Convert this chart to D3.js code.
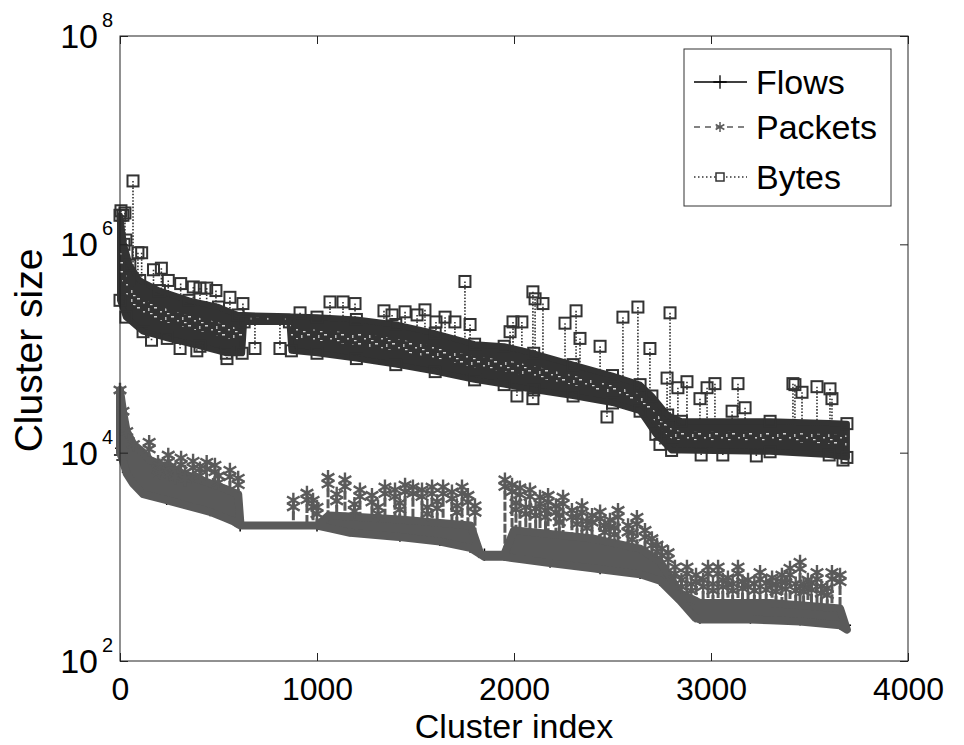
<!DOCTYPE html>
<html>
<head>
<meta charset="utf-8">
<script src="https://cdn.jsdelivr.net/npm/d3@7"></script>
<style>
  body { margin: 0; background: #fff; }
  text { font-family: "Liberation Sans", Arial, Helvetica, sans-serif; fill: #000; }
</style>
</head>
<body>
<script>
// ---------------------------------------------------------------
//  DATA  (cluster index, cluster size)
// ---------------------------------------------------------------

// Flows: mostly hidden under the packets band
var flowsPoints = [[0, 9.5e3], [6, 1.1e4], [12, 8.5e3], [40, 6.5e3], [120, 4.2e3], [237, 3.6e3], [457, 2.8e3],
    [575, 2.3e3], [610, 2.0e3], [1000, 2.0e3], [1168, 1.8e3], [1421, 1.6e3], [1624, 1.45e3], [1777, 1.25e3],
    [1850, 1.05e3], [1950, 1.05e3], [2183, 9e2], [2437, 7.8e2], [2640, 7e2], [2741, 6e2], [2843, 4e2],
    [2920, 2.7e2], [2944, 2.6e2], [3200, 2.6e2], [3452, 2.5e2], [3655, 2.3e2], [3680, 2.2e2]];

// Packets: dense band (upper / lower edge) + spikes
var packetsTop = [[0, 4.0e4], [15, 2.5e4], [34, 1.6e4], [68, 1.2e4], [118, 1.0e4], [152, 8.5e3], [254, 7.0e3],
    [406, 5.5e3], [533, 4.5e3], [600, 4.0e3], [612, 2.0e3], [1000, 2.0e3], [1060, 2.5e3], [1400, 2.3e3],
    [1780, 2.0e3], [1830, 1.05e3], [1950, 1.05e3], [2000, 1.8e3], [2400, 1.5e3], [2640, 1.2e3], [2741, 9e2],
    [2843, 4.5e2], [2944, 3.6e2], [3300, 3.6e2], [3655, 3.2e2], [3690, 2.0e2]];
var packetsBottom = [[0, 1.0e4], [10, 9.0e3], [34, 6.3e3], [68, 5.0e3], [118, 4.0e3], [237, 3.5e3], [339, 3.1e3],
    [457, 2.7e3], [575, 2.2e3], [610, 2.0e3], [1000, 2.0e3], [1168, 1.7e3], [1421, 1.55e3], [1624, 1.4e3],
    [1777, 1.22e3], [1850, 1.0e3], [1950, 1.0e3], [2030, 9.5e2], [2183, 8.7e2], [2437, 7.6e2], [2640, 6.8e2],
    [2741, 5.9e2], [2843, 3.8e2], [2920, 2.6e2], [2944, 2.5e2], [3200, 2.5e2], [3452, 2.4e2], [3655, 2.2e2],
    [3690, 2.0e2]];
var packetsPeaks = [[148, 1.26e4], [193, 8.1e3], [200, 7.5e3], [245, 9.5e3], [254, 7.3e3], [280, 6.8e3],
    [310, 8.9e3], [330, 6.5e3], [371, 8.3e3], [406, 7.0e3], [440, 8.1e3], [482, 7.6e3], [500, 6.0e3],
    [558, 6.8e3], [600, 5.7e3], [880, 3.5e3], [949, 4.1e3], [980, 3.5e3], [1000, 3.0e3], [1056, 5.8e3],
    [1100, 4.0e3], [1142, 5.5e3], [1190, 3.2e3], [1218, 4.4e3], [1279, 3.9e3], [1310, 3.0e3], [1345, 4.7e3],
    [1396, 4.4e3], [1420, 3.3e3], [1447, 4.9e3], [1487, 4.7e3], [1533, 4.4e3], [1560, 3.0e3], [1584, 4.7e3],
    [1610, 3.4e3], [1640, 4.7e3], [1685, 4.2e3], [1710, 3.1e3], [1736, 4.7e3], [1766, 3.9e3], [1802, 3.1e3],
    [1954, 5.5e3], [1990, 4.9e3], [2010, 3.3e3], [2030, 4.6e3], [2060, 3.0e3], [2081, 4.4e3], [2110, 2.9e3],
    [2132, 3.75e3], [2160, 2.8e3], [2173, 3.9e3], [2213, 3.1e3], [2230, 2.5e3], [2249, 3.75e3], [2294, 2.8e3],
    [2320, 2.4e3], [2345, 3.1e3], [2370, 2.2e3], [2396, 2.5e3], [2437, 2.7e3], [2460, 2.0e3], [2487, 2.26e3],
    [2510, 1.9e3], [2528, 2.8e3], [2579, 2.0e3], [2600, 1.7e3], [2624, 2.4e3], [2665, 1.8e3], [2700, 1.5e3],
    [2726, 1.3e3], [2750, 1.2e3], [2782, 1.1e3], [2817, 8e2], [2850, 6e2], [2878, 8e2], [2900, 5.5e2],
    [2924, 6.7e2], [2960, 6e2], [2985, 8e2], [3010, 5.5e2], [3036, 8e2], [3060, 6e2], [3086, 6.3e2],
    [3110, 5.5e2], [3137, 8e2], [3160, 5.8e2], [3188, 6.0e2], [3220, 5.5e2], [3249, 7.1e2], [3280, 5.6e2],
    [3310, 6.3e2], [3330, 5.4e2], [3360, 6.7e2], [3380, 5.7e2], [3401, 7.8e2], [3430, 5.5e2], [3452, 8.9e2],
    [3470, 5.4e2], [3492, 6.0e2], [3510, 5.6e2], [3538, 7.1e2], [3560, 5.2e2], [3590, 5.0e2], [3614, 7.1e2],
    [3655, 6.7e2]];

// Bytes: dense band (upper / lower edge) + outliers
var bytesTop = [[0, 1.9e6], [20, 1.0e6], [50, 6.3e5], [100, 4.5e5], [200, 3.6e5], [350, 2.9e5], [500, 2.5e5],
    [600, 2.1e5], [1000, 2.0e5], [1200, 1.9e5], [1400, 1.7e5], [1600, 1.4e5], [1800, 1.1e5], [1950, 1.05e5],
    [2100, 9e4], [2300, 7e4], [2500, 5.5e4], [2640, 4.5e4], [2700, 3.5e4], [2780, 2.3e4], [2850, 2.0e4],
    [3300, 2.0e4], [3690, 1.9e4]];
var bytesBottom = [[0, 2.9e5], [30, 2.0e5], [117, 1.45e5], [240, 1.25e5], [406, 1.05e5], [540, 9e4], [620, 9e4],
    [630, 1.8e5], [860, 1.8e5], [870, 9.5e4], [1000, 9e4], [1200, 8e4], [1400, 7e4], [1600, 6e4], [1800, 5e4],
    [1950, 4.5e4], [2100, 4.0e4], [2300, 3.5e4], [2500, 3.0e4], [2640, 2.5e4], [2720, 1.5e4], [2800, 1.05e4],
    [3300, 1.02e4], [3600, 9.5e3], [3690, 9e3]];
var bytesPeaks = [[5, 2.1e6], [15, 1.9e6], [25, 2.0e6], [30, 1.1e6], [66, 4.06e6], [91, 8.3e5], [110, 8.3e5],
    [170, 5.7e5], [210, 5.9e5], [245, 4.5e5], [308, 4.2e5], [372, 3.9e5], [406, 3.8e5], [440, 3.8e5],
    [487, 3.6e5], [558, 3.1e5], [624, 2.7e5], [914, 2.2e5], [1066, 2.8e5], [1132, 2.8e5], [1193, 2.7e5],
    [1340, 2.3e5], [1381, 2.1e5], [1447, 2.25e5], [1508, 2.1e5], [1548, 2.35e5], [1604, 1.8e5], [1650, 2.0e5],
    [1700, 1.8e5], [1751, 4.4e5], [1777, 1.7e5], [1980, 1.45e5], [1995, 1.8e5], [2040, 1.8e5], [2096, 3.5e5],
    [2107, 3.0e5], [2147, 2.7e5], [2259, 1.75e5], [2315, 2.3e5], [2335, 1.25e5], [2437, 1.05e5], [2553, 2.0e5],
    [2629, 2.5e5], [2690, 1.0e5], [2777, 5.2e4], [2792, 2.2e5], [2832, 4.2e4], [2878, 4.8e4], [2944, 3.3e4],
    [2980, 4.2e4], [3020, 4.6e4], [3107, 2.5e4], [3137, 4.6e4], [3173, 2.7e4], [3416, 4.6e4], [3426, 4.5e4],
    [3462, 3.8e4], [3538, 4.3e4], [3604, 4.1e4], [3614, 3.3e4],
    // below the band
    [160, 1.2e5], [305, 1.0e5], [390, 9.5e4], [543, 8.0e4], [685, 1.0e5], [812, 1.0e5], [2015, 3.5e4],
    [2096, 3.3e4], [2472, 2.2e4], [2741, 1.2e4], [2950, 9.5e3], [3060, 9.5e3], [3230, 9.3e3], [3670, 8.5e3]];

// Axis ticks
var xTicks = [0, 1000, 2000, 3000, 4000];
var yTickExp = [2, 4, 6, 8];
var legendNames = ["Flows", "Packets", "Bytes"];

// ---------------------------------------------------------------
//  SETUP
// ---------------------------------------------------------------
var W = 964, H = 745;
var margin = {left: 120, right: 56, top: 36, bottom: 84};

var svg = d3.select("body").append("svg")
    .attr("width", W)
    .attr("height", H);

var x = d3.scaleLinear().domain([0, 4000]).range([margin.left, W - margin.right]);
var y = d3.scaleLog().domain([1e2, 1e8]).range([H - margin.bottom, margin.top]);

var colBytes = "#333333", colPackets = "#5a5a5a", colFlows = "#000000";

var defs = svg.append("defs");
defs.append("clipPath").attr("id", "clip")
  .append("rect")
    .attr("x", x(0) - 8).attr("y", y(1e8))
    .attr("width", x(4000) - x(0) + 8).attr("height", y(1e2) - y(1e8));

// speckle texture for the inside of the bytes band (overlapping squares)
var pat = defs.append("pattern").attr("id", "speck")
    .attr("width", 17).attr("height", 9).attr("patternUnits", "userSpaceOnUse");
pat.append("rect").attr("width", 17).attr("height", 9).attr("fill", colBytes);
pat.append("rect").attr("x", 1).attr("y", 1).attr("width", 3).attr("height", 1.5).attr("fill", "#d0d0d0");
pat.append("rect").attr("x", 7).attr("y", 5).attr("width", 2).attr("height", 1.5).attr("fill", "#c0c0c0");
pat.append("rect").attr("x", 12).attr("y", 2).attr("width", 1.5).attr("height", 3).attr("fill", "#b8b8b8");
pat.append("rect").attr("x", 14).attr("y", 7).attr("width", 2.5).attr("height", 1.2).attr("fill", "#d8d8d8");

// value of an envelope at cluster index i (linear in log space)
function valueAt(env, i) {
    var b = d3.bisector(function(d) { return d[0]; }).left(env, i);
    if (b <= 0) return env[0][1];
    if (b >= env.length) return env[env.length - 1][1];
    var a = env[b - 1], c = env[b];
    if (c[0] === i) return c[1];
    var t = (i - a[0]) / (c[0] - a[0]);
    return Math.pow(10, Math.log10(a[1]) + t * (Math.log10(c[1]) - Math.log10(a[1])));
}

function allIndex(top, bottom) {
    return Array.from(new Set(top.map(function(d) { return d[0]; }).concat(bottom.map(function(d) { return d[0]; }))))
        .sort(function(a, b) { return a - b; });
}

// area between two envelopes; f0/f1 pick a fraction of the band (in log units)
function bandPath(top, bottom, f0, f1) {
    f0 = f0 || 0; f1 = (f1 === undefined) ? 1 : f1;
    function at(i, f) {
        var lt = Math.log10(valueAt(top, i)), lb = Math.log10(valueAt(bottom, i));
        return y(Math.pow(10, lt - f * (lt - lb)));
    }
    return d3.area()
        .x(function(i) { return x(i); })
        .y0(function(i) { return at(i, f1); })
        .y1(function(i) { return at(i, f0); })(allIndex(top, bottom));
}

var plot = svg.append("g").attr("clip-path", "url(#clip)");

// ---------------------------------------------------------------
//  FLOWS
// ---------------------------------------------------------------
plot.append("path")
    .attr("d", d3.line().x(function(d) { return x(d[0]); }).y(function(d) { return y(d[1]); })(flowsPoints))
    .attr("fill", "none").attr("stroke", colFlows).attr("stroke-width", 1.2);
plot.selectAll(".fmark").data(flowsPoints).join("path")
    .attr("transform", function(d) { return "translate(" + x(d[0]) + "," + y(d[1]) + ")"; })
    .attr("d", d3.symbol().type(d3.symbolPlus).size(50))
    .attr("fill", "none").attr("stroke", colFlows).attr("stroke-width", 1.5);

// ---------------------------------------------------------------
//  PACKETS
// ---------------------------------------------------------------
plot.selectAll(".ptrunk").data(packetsPeaks).join("line")
    .attr("x1", function(d) { return x(d[0]); })
    .attr("x2", function(d) { return x(d[0]); })
    .attr("y1", function(d) { return y(d[1]); })
    .attr("y2", function(d) { return y(valueAt(packetsBottom, d[0])); })
    .attr("stroke", colPackets).attr("stroke-width", 3).attr("stroke-dasharray", "9,2");

plot.append("path")
    .attr("d", bandPath(packetsTop, packetsBottom))
    .attr("fill", colPackets).attr("stroke", colPackets)
    .attr("stroke-width", 8).attr("stroke-linejoin", "round");

var starSym = d3.symbol().type(d3.symbolAsterisk).size(150);
var crown = [];
packetsPeaks.forEach(function(d) { crown.push([d[0], d[1]]); crown.push([d[0], d[1] * 0.86]); });
plot.selectAll(".pstar").data(crown.concat(packetsTop.slice(0, 4))).join("path")
    .attr("transform", function(d) { return "translate(" + x(d[0]) + "," + y(d[1]) + ")"; })
    .attr("d", starSym)
    .attr("fill", "none").attr("stroke", colPackets).attr("stroke-width", 2.4);

// ---------------------------------------------------------------
//  BYTES
// ---------------------------------------------------------------
plot.selectAll(".bline").data(bytesPeaks).join("line")
    .attr("x1", function(d) { return x(d[0]); })
    .attr("x2", function(d) { return x(d[0]); })
    .attr("y1", function(d) { return y(d[1]); })
    .attr("y2", function(d) {
        var t = valueAt(bytesTop, d[0]), b = valueAt(bytesBottom, d[0]);
        return y(d[1] > t ? t : (d[1] < b ? b : d[1]));
    })
    .attr("stroke", colBytes).attr("stroke-width", 1.6).attr("stroke-dasharray", "1.6,1.6");

plot.append("path")
    .attr("d", bandPath(bytesTop, bytesBottom))
    .attr("fill", colBytes).attr("stroke", colBytes)
    .attr("stroke-width", 6).attr("stroke-linejoin", "round");

// lighter, speckled middle between the two dark sub-bands
plot.append("path")
    .attr("d", bandPath(bytesTop, bytesBottom, 0.35, 0.65))
    .attr("fill", "url(#speck)");

var sq = 11;
plot.selectAll(".bsq").data(bytesPeaks.concat(bytesTop, bytesBottom)).join("rect")
    .attr("x", function(d) { return x(d[0]) - sq / 2; })
    .attr("y", function(d) { return y(d[1]) - sq / 2; })
    .attr("width", sq).attr("height", sq)
    .attr("fill", "none").attr("stroke", colBytes).attr("stroke-width", 2);

// ---------------------------------------------------------------
//  AXES (MATLAB style box, ticks pointing inward)
// ---------------------------------------------------------------
var yTicks = yTickExp.map(function(e) { return Math.pow(10, e); });

svg.append("g")
    .attr("transform", "translate(0," + y(1e2) + ")")
    .call(d3.axisBottom(x).tickValues(xTicks).tickSize(-8).tickPadding(16).tickFormat(d3.format("d")))
    .call(function(g) { g.select(".domain").remove(); })
    .call(function(g) {
        g.selectAll("text").attr("font-size", 32).attr("fill", "#000")
            .style("font-family", "'Liberation Sans', Arial, sans-serif");
        g.selectAll("line").attr("stroke", "#222");
    });

svg.append("g")
    .attr("transform", "translate(0," + y(1e8) + ")")
    .call(d3.axisTop(x).tickValues(xTicks).tickSize(-8).tickFormat(""))
    .call(function(g) { g.select(".domain").remove(); g.selectAll("line").attr("stroke", "#222"); });

svg.append("g")
    .attr("transform", "translate(" + x(0) + ",0)")
    .call(d3.axisLeft(y).tickValues(yTicks).tickSize(-8).tickFormat(""))
    .call(function(g) { g.select(".domain").remove(); g.selectAll("line").attr("stroke", "#222"); });

svg.append("g")
    .attr("transform", "translate(" + x(4000) + ",0)")
    .call(d3.axisRight(y).tickValues(yTicks).tickSize(-8).tickFormat(""))
    .call(function(g) { g.select(".domain").remove(); g.selectAll("line").attr("stroke", "#222"); });

// y tick labels 10^n
var yl = svg.append("g").selectAll("g").data(yTickExp).join("g")
    .attr("transform", function(e) { return "translate(0," + y(Math.pow(10, e)) + ")"; });
yl.append("text").attr("x", 98).attr("y", 12).attr("text-anchor", "end")
    .attr("font-size", 34).text("10");
yl.append("text").attr("x", 102).attr("y", -9)
    .attr("font-size", 20).text(function(e) { return e; });

// frame
svg.append("rect")
    .attr("x", x(0)).attr("y", y(1e8))
    .attr("width", x(4000) - x(0)).attr("height", y(1e2) - y(1e8))
    .attr("fill", "none").attr("stroke", "#222").attr("stroke-width", 1);

// axis labels
svg.append("text")
    .attr("x", (x(0) + x(4000)) / 2).attr("y", 737.5)
    .attr("text-anchor", "middle").attr("font-size", 34)
    .text("Cluster index");
svg.append("text")
    .attr("transform", "translate(42," + ((y(1e2) + y(1e8)) / 2 + 2) + ") rotate(-90)")
    .attr("text-anchor", "middle").attr("font-size", 39)
    .text("Cluster size");

// ---------------------------------------------------------------
//  LEGEND
// ---------------------------------------------------------------
var lg = svg.append("g").attr("transform", "translate(684,49)");
lg.append("rect").attr("width", 207).attr("height", 157)
    .attr("fill", "#fff").attr("stroke", "#333").attr("stroke-width", 1);

var legendStyle = [
    {col: colFlows, dash: null, sw: 1.3},
    {col: colPackets, dash: "6,5", sw: 1.5},
    {col: colBytes, dash: "1.5,2.5", sw: 1.3}
];
var rowY = [33, 78, 128];
var rows = lg.selectAll(".lrow").data(legendNames).join("g")
    .attr("transform", function(d, i) { return "translate(0," + rowY[i] + ")"; });
rows.append("line").attr("x1", 10).attr("x2", 63)
    .attr("stroke", function(d, i) { return legendStyle[i].col; })
    .attr("stroke-width", function(d, i) { return legendStyle[i].sw; })
    .attr("stroke-dasharray", function(d, i) { return legendStyle[i].dash; });
rows.each(function(d, i) {
    var g = d3.select(this);
    if (i === 0) {
        g.append("path").attr("transform", "translate(36,0)")
            .attr("d", d3.symbol().type(d3.symbolPlus).size(60))
            .attr("fill", "none").attr("stroke", colFlows).attr("stroke-width", 1.3);
    } else if (i === 1) {
        g.append("path").attr("transform", "translate(36,0)")
            .attr("d", d3.symbol().type(d3.symbolAsterisk).size(70))
            .attr("fill", "none").attr("stroke", colPackets).attr("stroke-width", 1.5);
    } else {
        g.append("rect").attr("x", 32).attr("y", -4).attr("width", 8).attr("height", 8)
            .attr("fill", "#fff").attr("stroke", colBytes).attr("stroke-width", 1.5);
    }
});
rows.append("text").attr("x", 72).attr("y", 12).attr("font-size", 34)
    .text(function(d) { return d; });
</script>
</body>
</html>
